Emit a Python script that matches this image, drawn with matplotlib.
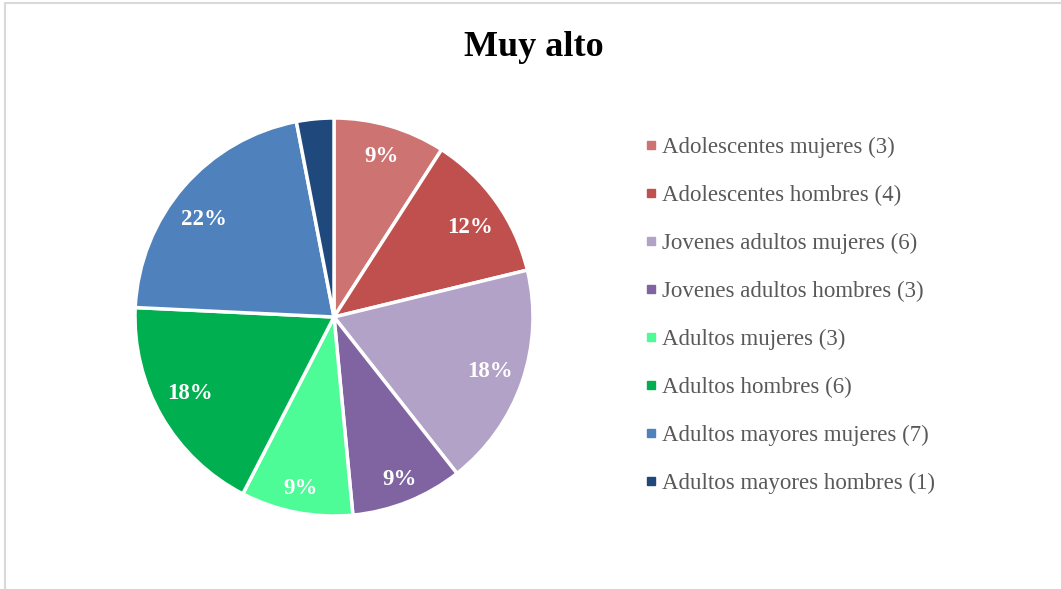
import matplotlib
matplotlib.use("Agg")
import matplotlib.pyplot as plt
from matplotlib.lines import Line2D
from matplotlib.patches import Rectangle
import numpy as np

plt.rcParams['font.family'] = ['Liberation Serif', 'DejaVu Serif']

# Datos del grupo "Muy alto"
categorias = [
    "Adolescentes mujeres",
    "Adolescentes hombres",
    "Jovenes adultos mujeres",
    "Jovenes adultos hombres",
    "Adultos mujeres",
    "Adultos hombres",
    "Adultos mayores mujeres",
    "Adultos mayores hombres",
]
conteos = [3, 4, 6, 3, 3, 6, 7, 1]
etiquetas_pct = ["9%", "12%", "18%", "9%", "9%", "18%", "22%", ""]
colores = ["#CD7371", "#C0504D", "#B3A2C7", "#8064A2",
           "#4DFC97", "#00B050", "#4F81BD", "#1F497D"]

# ubicacion de cada porcentaje: distancia al centro y giro respecto al medio del sector
dist_etiquetas = [0.84, 0.82, 0.83, 0.88, 0.88, 0.82, 0.815, 0.8]
giro_etiquetas = [0, -2, 0, 0, 0, -2, 4, 0]

fig = plt.figure(figsize=(10.61, 5.89), dpi=100)

# marco gris del grafico
fig.add_artist(Rectangle((5 / 1061, -0.2), 1.2, 1.2 - 3 / 589,
                         transform=fig.transFigure, fill=False,
                         edgecolor="#D9D9D9", linewidth=1.5))

ax = fig.add_axes([135 / 1061, 73 / 589, 398 / 1061, 398 / 589])
wedges, _ = ax.pie(conteos, colors=colores, startangle=90, counterclock=False,
                   radius=1.0,
                   wedgeprops=dict(edgecolor="white", linewidth=2.5))
ax.set_xlim(-1, 1)
ax.set_ylim(-1, 1)
ax.set_aspect("equal")
ax.axis("off")

# porcentajes dentro de cada sector
for w, txt, r, giro in zip(wedges, etiquetas_pct, dist_etiquetas, giro_etiquetas):
    if not txt:
        continue
    ang = np.deg2rad((w.theta1 + w.theta2) / 2 + giro)
    ax.text(r * np.cos(ang), r * np.sin(ang), txt, ha="center", va="center",
            color="white", fontsize=16.5, fontweight="bold")

fig.text(534 / 1061, 1 - 48 / 589, "Muy alto", ha="center", va="center",
         fontsize=26, fontweight="bold", color="black")

handles = [Line2D([], [], marker="s", linestyle="none", markersize=5.5,
                  markerfacecolor=c, markeredgecolor=c) for c in colores]
textos = [f"{c} ({n})" for c, n in zip(categorias, conteos)]
leg = fig.legend(handles, textos, loc="upper left",
                 bbox_to_anchor=(644 / 1061, 1 - 137 / 589),
                 frameon=False, fontsize=16.5, labelspacing=1.17,
                 handlelength=0.6, handletextpad=0.2, borderpad=0,
                 borderaxespad=0)
for t in leg.get_texts():
    t.set_color("#595959")

fig.savefig("out.png", dpi=100)
